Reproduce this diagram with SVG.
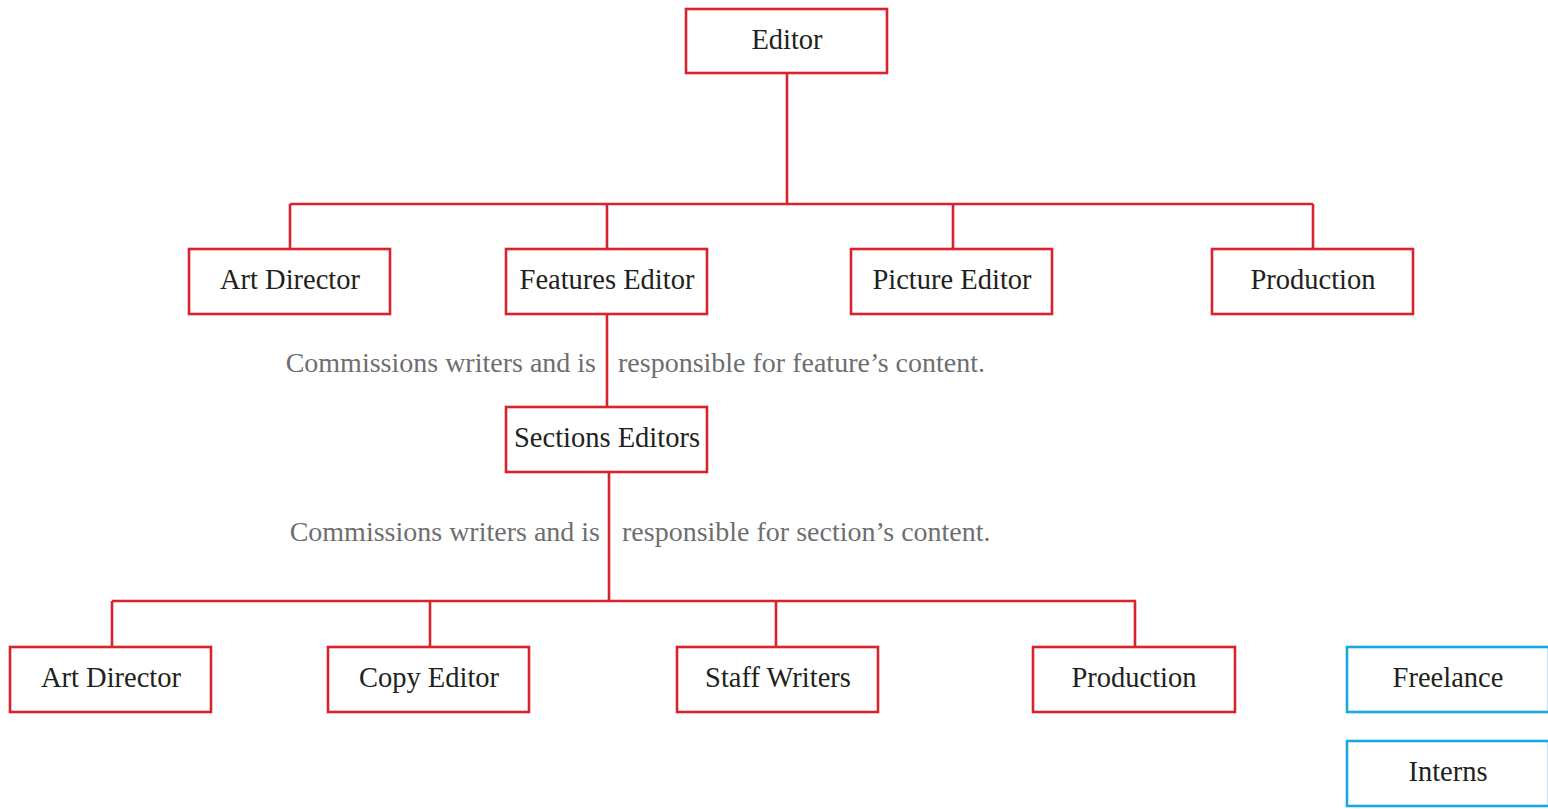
<svg xmlns="http://www.w3.org/2000/svg" width="1548" height="809" viewBox="0 0 1548 809">
  <style>
    .box { fill: #ffffff; stroke: #d8232f; stroke-width: 2.6; }
    .box.aux { stroke: #1aa7e0; }
    .lbl { font-family: "Liberation Serif", "DejaVu Serif", serif; font-size: 28.5px; fill: #231f20; text-anchor: middle; }
    .note { font-family: "Liberation Serif", "DejaVu Serif", serif; font-size: 28px; fill: #6d6e70; }
    .link { fill: none; stroke: #d8232f; stroke-width: 2.6; }
  </style>
  <rect width="1548" height="809" fill="#ffffff"/>

  <!-- connectors -->
  <g id="connectors">
    <path class="link" d="M787 73 V204 M290 204 H1313 M290 204 V249 M607 204 V249 M953 204 V249 M1313 204 V249"/>
    <path class="link" d="M607 314 V407"/>
    <path class="link" d="M609 472 V601 M112 601 H1136 M112 601 V647 M430 601 V647 M776 601 V647 M1135 601 V647"/>
  </g>

  <!-- annotations along the reporting lines -->
  <g id="notes">
    <text class="note" x="596" y="372" text-anchor="end">Commissions writers and is</text>
    <text class="note" x="618" y="372">responsible for feature’s content.</text>
    <text class="note" x="600" y="541" text-anchor="end">Commissions writers and is</text>
    <text class="note" x="622" y="541">responsible for section’s content.</text>
  </g>

  <g id="editor">
    <rect class="box" x="686" y="9" width="201" height="64"/>
    <text class="lbl" x="787" y="49">Editor</text>
  </g>

  <g id="art-director-top">
    <rect class="box" x="189" y="249" width="201" height="65"/>
    <text class="lbl" x="290" y="289">Art Director</text>
  </g>
  <g id="features-editor">
    <rect class="box" x="506" y="249" width="201" height="65"/>
    <text class="lbl" x="607" y="289">Features Editor</text>
  </g>
  <g id="picture-editor">
    <rect class="box" x="851" y="249" width="201" height="65"/>
    <text class="lbl" x="952" y="289">Picture Editor</text>
  </g>
  <g id="production-top">
    <rect class="box" x="1212" y="249" width="201" height="65"/>
    <text class="lbl" x="1313" y="289">Production</text>
  </g>

  <g id="sections-editors">
    <rect class="box" x="506" y="407" width="201" height="65"/>
    <text class="lbl" x="607" y="447">Sections Editors</text>
  </g>

  <g id="art-director-bottom">
    <rect class="box" x="10" y="647" width="201" height="65"/>
    <text class="lbl" x="111" y="687">Art Director</text>
  </g>
  <g id="copy-editor">
    <rect class="box" x="328" y="647" width="201" height="65"/>
    <text class="lbl" x="429" y="687">Copy Editor</text>
  </g>
  <g id="staff-writers">
    <rect class="box" x="677" y="647" width="201" height="65"/>
    <text class="lbl" x="778" y="687">Staff Writers</text>
  </g>
  <g id="production-bottom">
    <rect class="box" x="1033" y="647" width="202" height="65"/>
    <text class="lbl" x="1134" y="687">Production</text>
  </g>

  <g id="freelance">
    <rect class="box aux" x="1347" y="647" width="202" height="65"/>
    <text class="lbl" x="1448" y="687">Freelance</text>
  </g>
  <g id="interns">
    <rect class="box aux" x="1347" y="741" width="202" height="65"/>
    <text class="lbl" x="1448" y="781">Interns</text>
  </g>
</svg>
